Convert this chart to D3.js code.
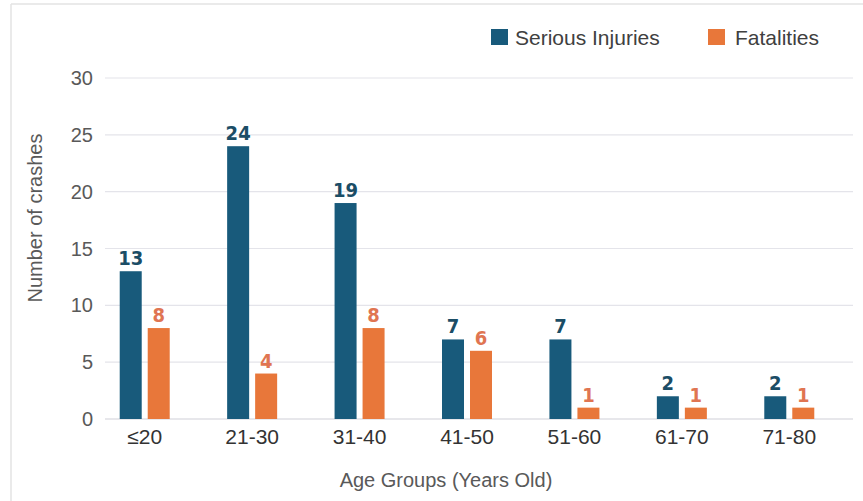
<!DOCTYPE html>
<html><head><meta charset="utf-8">
<script src="https://cdn.jsdelivr.net/npm/d3@7"></script>
<style>body{margin:0;background:#fff;} svg{display:block;}</style>
</head><body><svg id="c" width="863" height="501"></svg>
<script>
const categories = ["≤20","21-30","31-40","41-50","51-60","61-70","71-80"];
const seriousInjuries = [13,24,19,7,7,2,2];
const fatalities = [8,4,8,6,1,1,1];
const yTicks = [0,5,10,15,20,25,30];
const seriesNames = ["Serious Injuries","Fatalities"];

const svg = d3.select("#c");
const fontMain = "'Liberation Sans', Arial, sans-serif";
const fontBold = "'Liberation Sans Narrow','DejaVu Sans Condensed','Liberation Sans', sans-serif";
const blue = "#185a7b", orange = "#e8773a";
const blueLbl = "#1b4d66", orangeLbl = "#e07552";

// frame
svg.append("line").attr("x1",11).attr("x2",11).attr("y1",4).attr("y2",501).attr("stroke","#e3e3e3").attr("stroke-width",1.5);
svg.append("line").attr("x1",11).attr("x2",863).attr("y1",4).attr("y2",4).attr("stroke","#e3e3e3").attr("stroke-width",1.5);

const x = d3.scaleBand().domain(categories).range([91,843]);
const y = d3.scaleLinear().domain([0,30]).range([419,78]);

// gridlines
svg.append("g").selectAll("line").data(yTicks).join("line")
  .attr("x1",105).attr("x2",853).attr("y1",d=>y(d)).attr("y2",d=>y(d))
  .attr("stroke",d=>d===0?"#d0d0d8":"#e4e4ea").attr("stroke-width",1.2);

// y tick labels
svg.append("g").selectAll("text").data(yTicks).join("text")
  .attr("x",93).attr("y",d=>y(d)).attr("dy","0.35em").attr("text-anchor","end")
  .attr("font-family",fontMain).attr("font-size",20).attr("fill","#595959").text(d=>d);

// x labels
svg.append("g").selectAll("text").data(categories).join("text")
  .attr("x",d=>x(d)+x.bandwidth()/2).attr("y",444).attr("text-anchor","middle")
  .attr("font-family",fontMain).attr("font-size",21).attr("fill","#333").text(d=>d);

const barW = 22, gap = 6;
const bx = (c,i) => x(c)+x.bandwidth()/2 + (i===0 ? -(barW+gap/2) : gap/2);

const series = [seriousInjuries, fatalities];
const cols = [blue, orange], lcols = [blueLbl, orangeLbl];
series.forEach((vals,i)=>{
  const g = svg.append("g");
  g.selectAll("rect").data(categories).join("rect")
    .attr("x",(c)=>bx(c,i)).attr("width",barW)
    .attr("y",(c,j)=>y(vals[j])).attr("height",(c,j)=>y(0)-y(vals[j]))
    .attr("fill",cols[i]);
  g.selectAll("text").data(categories).join("text")
    .attr("x",(c)=>bx(c,i)+barW/2).attr("y",(c,j)=>y(vals[j])-6)
    .attr("text-anchor","middle").attr("font-family",fontBold).attr("font-weight","bold")
    .attr("font-size",20).attr("fill",lcols[i]).text((c,j)=>vals[j]);
});

// axis titles
svg.append("text").attr("transform","translate(42,218) rotate(-90)").attr("text-anchor","middle")
  .attr("font-family",fontMain).attr("font-size",20).attr("fill","#595959").text("Number of crashes");
svg.append("text").attr("x",446).attr("y",487).attr("text-anchor","middle")
  .attr("font-family",fontMain).attr("font-size",20).attr("fill","#595959").text("Age Groups (Years Old)");

// legend
const leg = [{x:491,tx:515,name:seriesNames[0],c:blue},{x:708,tx:735,name:seriesNames[1],c:orange}];
leg.forEach(l=>{
  svg.append("rect").attr("x",l.x).attr("y",29).attr("width",17).attr("height",16).attr("fill",l.c);
  svg.append("text").attr("x",l.tx).attr("y",45).attr("font-family",fontMain).attr("font-size",21)
    .attr("fill","#404040").text(l.name);
});
</script></body></html>
